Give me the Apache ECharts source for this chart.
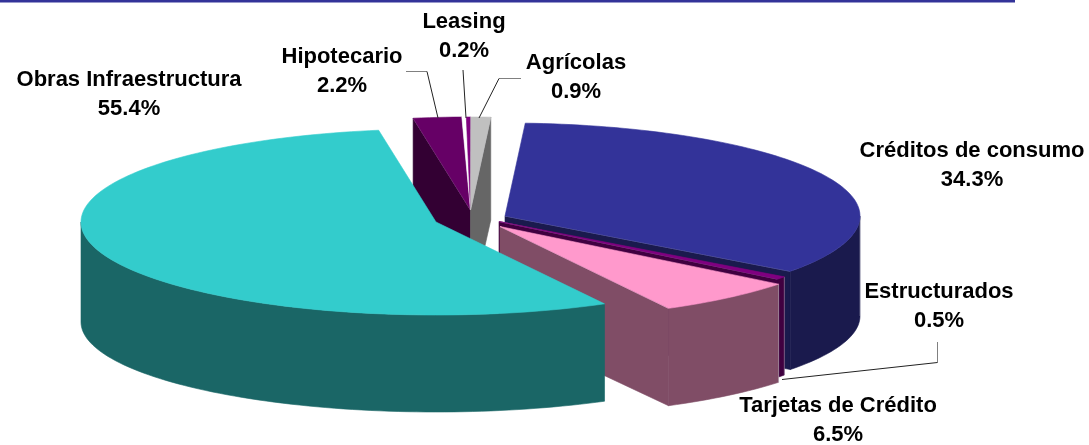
<!DOCTYPE html>
<html><head><meta charset="utf-8">
<style>html,body{margin:0;padding:0;background:#fff}#c{width:1089px;height:445px}</style>
<script src="https://cdn.jsdelivr.net/npm/echarts@6/dist/echarts.min.js"></script>
</head><body><div id="c"></div>
<script>
// Data, in clockwise drawing order starting at the back of the pie
var categories = ['Hipotecario','Leasing','','Agrícolas','Créditos de consumo','Estructurados','Tarjetas de Crédito','Obras Infraestructura'];
var shares = [2.2,0.2,0.2,0.9,34.3,0.5,6.5,55.4];
var topColors = ['#660066','#FFFFFF','#800080','#C0C0C0','#333399','#800080','#FF99CC','#33CCCC'];
var wallColors = ['#330033','#808080','#400040','#666666','#1A1A4D','#400040','#804D66','#1A6666'];
// Layout
var explodedCentres = [[470.5,210],[470.5,210],[470.5,210],[470.5,210],[505,216],[499,221.5],[500,226.5],[436,222]];
var labelCentres = [[342,71],[464,36],[0,0],[576,77],[972,165],[939,306],[838,420],[129,94]];
var leaders = [
  [[406,71.5],[427,71.5],[438,118]],
  [[463,70],[466,118]],
  null,
  [[521,78.5],[499,78.5],[479,118]],
  null,
  [[937.5,342],[937.5,362.5],[782,379.5]],
  null,null
];
var RX = 355, RY = 93, RY_BOTTOM = 90, DEPTH = 100, START_BEARING = 350.7;
var total = shares.reduce(function(a,b){return a+b;},0);

function pt(c,b,ry,dy){var r=b*Math.PI/180;return [c[0]+RX*Math.sin(r),c[1]+(dy||0)-ry*Math.cos(r)];}
function arc(c,b0,b1,ry,dy){var n=Math.max(2,Math.ceil(Math.abs(b1-b0)/1.5)),o=[];for(var i=0;i<=n;i++)o.push(pt(c,b0+(b1-b0)*i/n,ry,dy));return o;}
function poly(points,fill){return {type:'polygon',shape:{points:points},style:{fill:fill,stroke:fill,lineWidth:0.6},silent:true};}
function line(points,color,w){return {type:'polyline',shape:{points:points},style:{fill:null,stroke:color,lineWidth:w||1},silent:true};}

var seam = 'rgba(205,205,215,0.45)';
function sameCentre(a,b){var p=explodedCentres[a],q=explodedCentres[b];return p&&q&&p[0]===q[0]&&p[1]===q[1];}
function renderSlice(params,api){
  var i = params.dataIndex, v = api.value(1), kids = [];
  var before = 0; for (var k=0;k<i;k++) before += shares[k];
  var b0 = START_BEARING + before/total*360, b1 = b0 + v/total*360;
  var c = explodedCentres[i], foot = [c[0],c[1]+DEPTH];
  function cut(b){
    var a = pt(c,b,RY), d = pt(c,b,RY_BOTTOM,DEPTH);
    kids.push(poly([c,a,d,foot],wallColors[i]));
    kids.push(line([c,a],seam,1));
  }
  var s0 = Math.sin(b0*Math.PI/180), s1 = Math.sin(b1*Math.PI/180);
  if (s0 < 0 && !sameCentre(i,i-1)) cut(b0);
  if (s1 > 0 && !sameCentre(i,i+1)) cut(b1);
  // outer wall: only the part of the rim facing the viewer (bearings 90..270)
  for (var off=-360; off<=360; off+=360){
    var lo = Math.max(b0+off,90), hi = Math.min(b1+off,270);
    if (hi > lo){
      var up = arc(c,lo,hi,RY), down = arc(c,hi,lo,RY_BOTTOM,DEPTH);
      kids.push(poly(up.concat(down),wallColors[i]));
      if (i < 7) kids.push(line([pt(c,lo,RY),pt(c,lo,RY_BOTTOM,DEPTH)],seam,1));
    }
  }
  kids.push(poly([c].concat(arc(c,b0,b1,RY)),topColors[i]));
  return {type:'group',children:kids};
}
function renderLabel(params,api){
  var i = params.dataIndex, kids = [], L = leaders[i], name = categories[i];
  if (L){
    if (L.length === 3) kids.push(line([L[0],L[1]],'#808080',1));
    kids.push(line(L.slice(-2),'#222222',1));
  }
  if (name) kids.push({type:'text',silent:true,x:labelCentres[i][0],y:labelCentres[i][1],
    style:{text:name+'\n'+api.value(1).toFixed(1)+'%',align:'center',verticalAlign:'middle',
      fontFamily:'"Liberation Sans",Arial,sans-serif',fontWeight:'bold',fontSize:22,lineHeight:29,fill:'#000'}});
  return {type:'group',children:kids};
}
var seriesData = categories.map(function(n,i){return [i,shares[i]];});
var chart = echarts.init(document.getElementById('c'));
chart.setOption({
  animation:false,
  graphic:[{type:'rect',shape:{x:0,y:0,width:1015,height:2.5},style:{fill:'#333399'},silent:true}],
  series:[
    {type:'custom',coordinateSystem:'none',renderItem:renderSlice,data:seriesData,z:2,silent:true},
    {type:'custom',coordinateSystem:'none',renderItem:renderLabel,data:seriesData,z:3,silent:true}
  ]
});
</script></body></html>
